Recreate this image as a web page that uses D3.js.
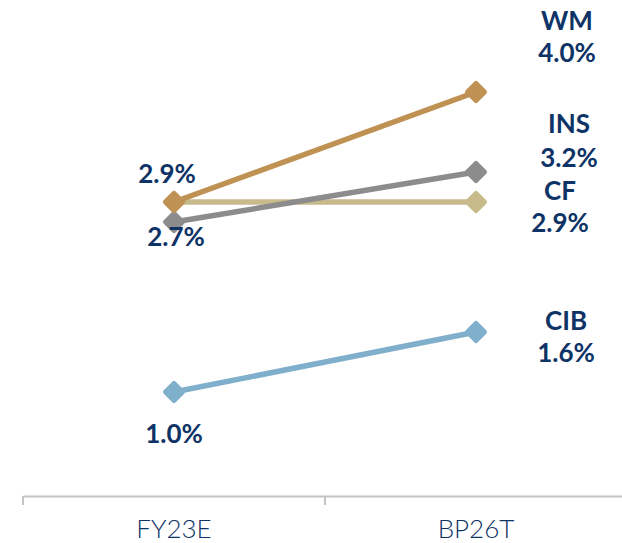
<!DOCTYPE html>
<html>
<head>
<meta charset="utf-8">
<script src="https://cdn.jsdelivr.net/npm/d3@7"></script>
<style>
  body { margin: 0; background: #fff; }
  svg { display: block; }
</style>
</head>
<body>
<svg id="chart"></svg>
<script>
// Constant Values
const width = 622;
const height = 543;

// Data
const categories = ["FY23E", "BP26T"];
const seriesNames = ["WM", "INS", "CF", "CIB"];
const wmValues = [2.9, 4.0];
const insValues = [2.7, 3.2];
const cfValues = [2.9, 2.9];
const cibValues = [1.0, 1.6];
const seriesColors = ["#BF9152", "#8C8C8C", "#C7BA8B", "#80AFCB"];

const series = [
    { name: seriesNames[0], values: wmValues, color: seriesColors[0] },
    { name: seriesNames[1], values: insValues, color: seriesColors[1] },
    { name: seriesNames[2], values: cfValues, color: seriesColors[2] },
    { name: seriesNames[3], values: cibValues, color: seriesColors[3] }
];

const textColor = "#0E3366";
const labelFont = "'Lato', 'DejaVu Sans', sans-serif";

const svg = d3.select("#chart")
    .attr("width", width)
    .attr("height", height);

// Scales
const xScale = d3.scaleBand()
    .domain(categories)
    .range([23, 627]);

const yScale = d3.scaleLinear()
    .domain([0, 4.5])
    .range([492, 42]);

const cx = c => xScale(c) + xScale.bandwidth() / 2;

// Axis
const axisY = 496;
const xAxis = d3.axisBottom(xScale).tickSize(0).tickPadding(0);
const axisG = svg.append("g")
    .attr("transform", `translate(0, ${axisY})`)
    .call(xAxis);
axisG.select(".domain").attr("stroke", "#C4C4C4").attr("stroke-width", 2);
axisG.selectAll("text")
    .attr("dy", null)
    .attr("y", 42)
    .attr("fill", textColor)
    .style("font-family", labelFont)
    .style("font-weight", 300)
    .style("font-size", "26px");

// band boundary ticks
svg.append("g").selectAll("line")
    .data(categories.concat([null]))
    .enter()
    .append("line")
    .attr("x1", (d, i) => i < categories.length ? xScale(d) : xScale.range()[1])
    .attr("x2", (d, i) => i < categories.length ? xScale(d) : xScale.range()[1])
    .attr("y1", axisY)
    .attr("y2", axisY + 9)
    .attr("stroke", "#C4C4C4")
    .attr("stroke-width", 2);

// Lines (draw CIB, CF, INS, WM so WM ends on top)
const line = d3.line()
    .x((d, i) => cx(categories[i]))
    .y(d => yScale(d));

const drawOrder = [series[3], series[2], series[1], series[0]];

svg.append("g").selectAll("path")
    .data(drawOrder)
    .enter()
    .append("path")
    .attr("d", d => line(d.values))
    .attr("fill", "none")
    .attr("stroke", d => d.color)
    .attr("stroke-width", 5.5);

// Diamond markers
const markerG = svg.append("g");
drawOrder.forEach(s => {
    markerG.selectAll(null)
        .data(s.values)
        .enter()
        .append("rect")
        .attr("x", -8.5)
        .attr("y", -8.5)
        .attr("width", 17)
        .attr("height", 17)
        .attr("rx", 2.5)
        .attr("fill", s.color)
        .attr("transform", (d, i) => `translate(${cx(categories[i])}, ${yScale(d)}) rotate(45)`);
});

// Right-hand labels: name + value
const rightLabelPos = {
    WM: { dx: 91, nameDy: -62, valDy: -30 },
    INS: { dx: 93, nameDy: -39, valDy: -5 },
    CF: { dx: 84, nameDy: -2, valDy: 30 },
    CIB: { dx: 90, nameDy: -2, valDy: 30 }
};

const labelG = svg.append("g")
    .attr("fill", textColor)
    .style("font-family", labelFont)
    .style("font-weight", 700)
    .style("font-size", "26px")
    .attr("text-anchor", "middle");

series.forEach(s => {
    const p = rightLabelPos[s.name];
    const x0 = cx(categories[1]) + p.dx;
    const y0 = yScale(s.values[1]);
    labelG.append("text").attr("x", x0).attr("y", y0 + p.nameDy).text(s.name);
    labelG.append("text").attr("x", x0).attr("y", y0 + p.valDy).text(d3.format(".1f")(s.values[1]) + "%");
});

// Left-hand value labels (WM above, INS below, CIB below)
const leftLabels = [
    { s: series[0], dx: -7, dy: -19 },
    { s: series[1], dx: 2, dy: 24 },
    { s: series[3], dx: 0, dy: 51 }
];

leftLabels.forEach(l => {
    labelG.append("text")
        .attr("x", cx(categories[0]) + l.dx)
        .attr("y", yScale(l.s.values[0]) + l.dy)
        .text(d3.format(".1f")(l.s.values[0]) + "%");
});
</script>
</body>
</html>
